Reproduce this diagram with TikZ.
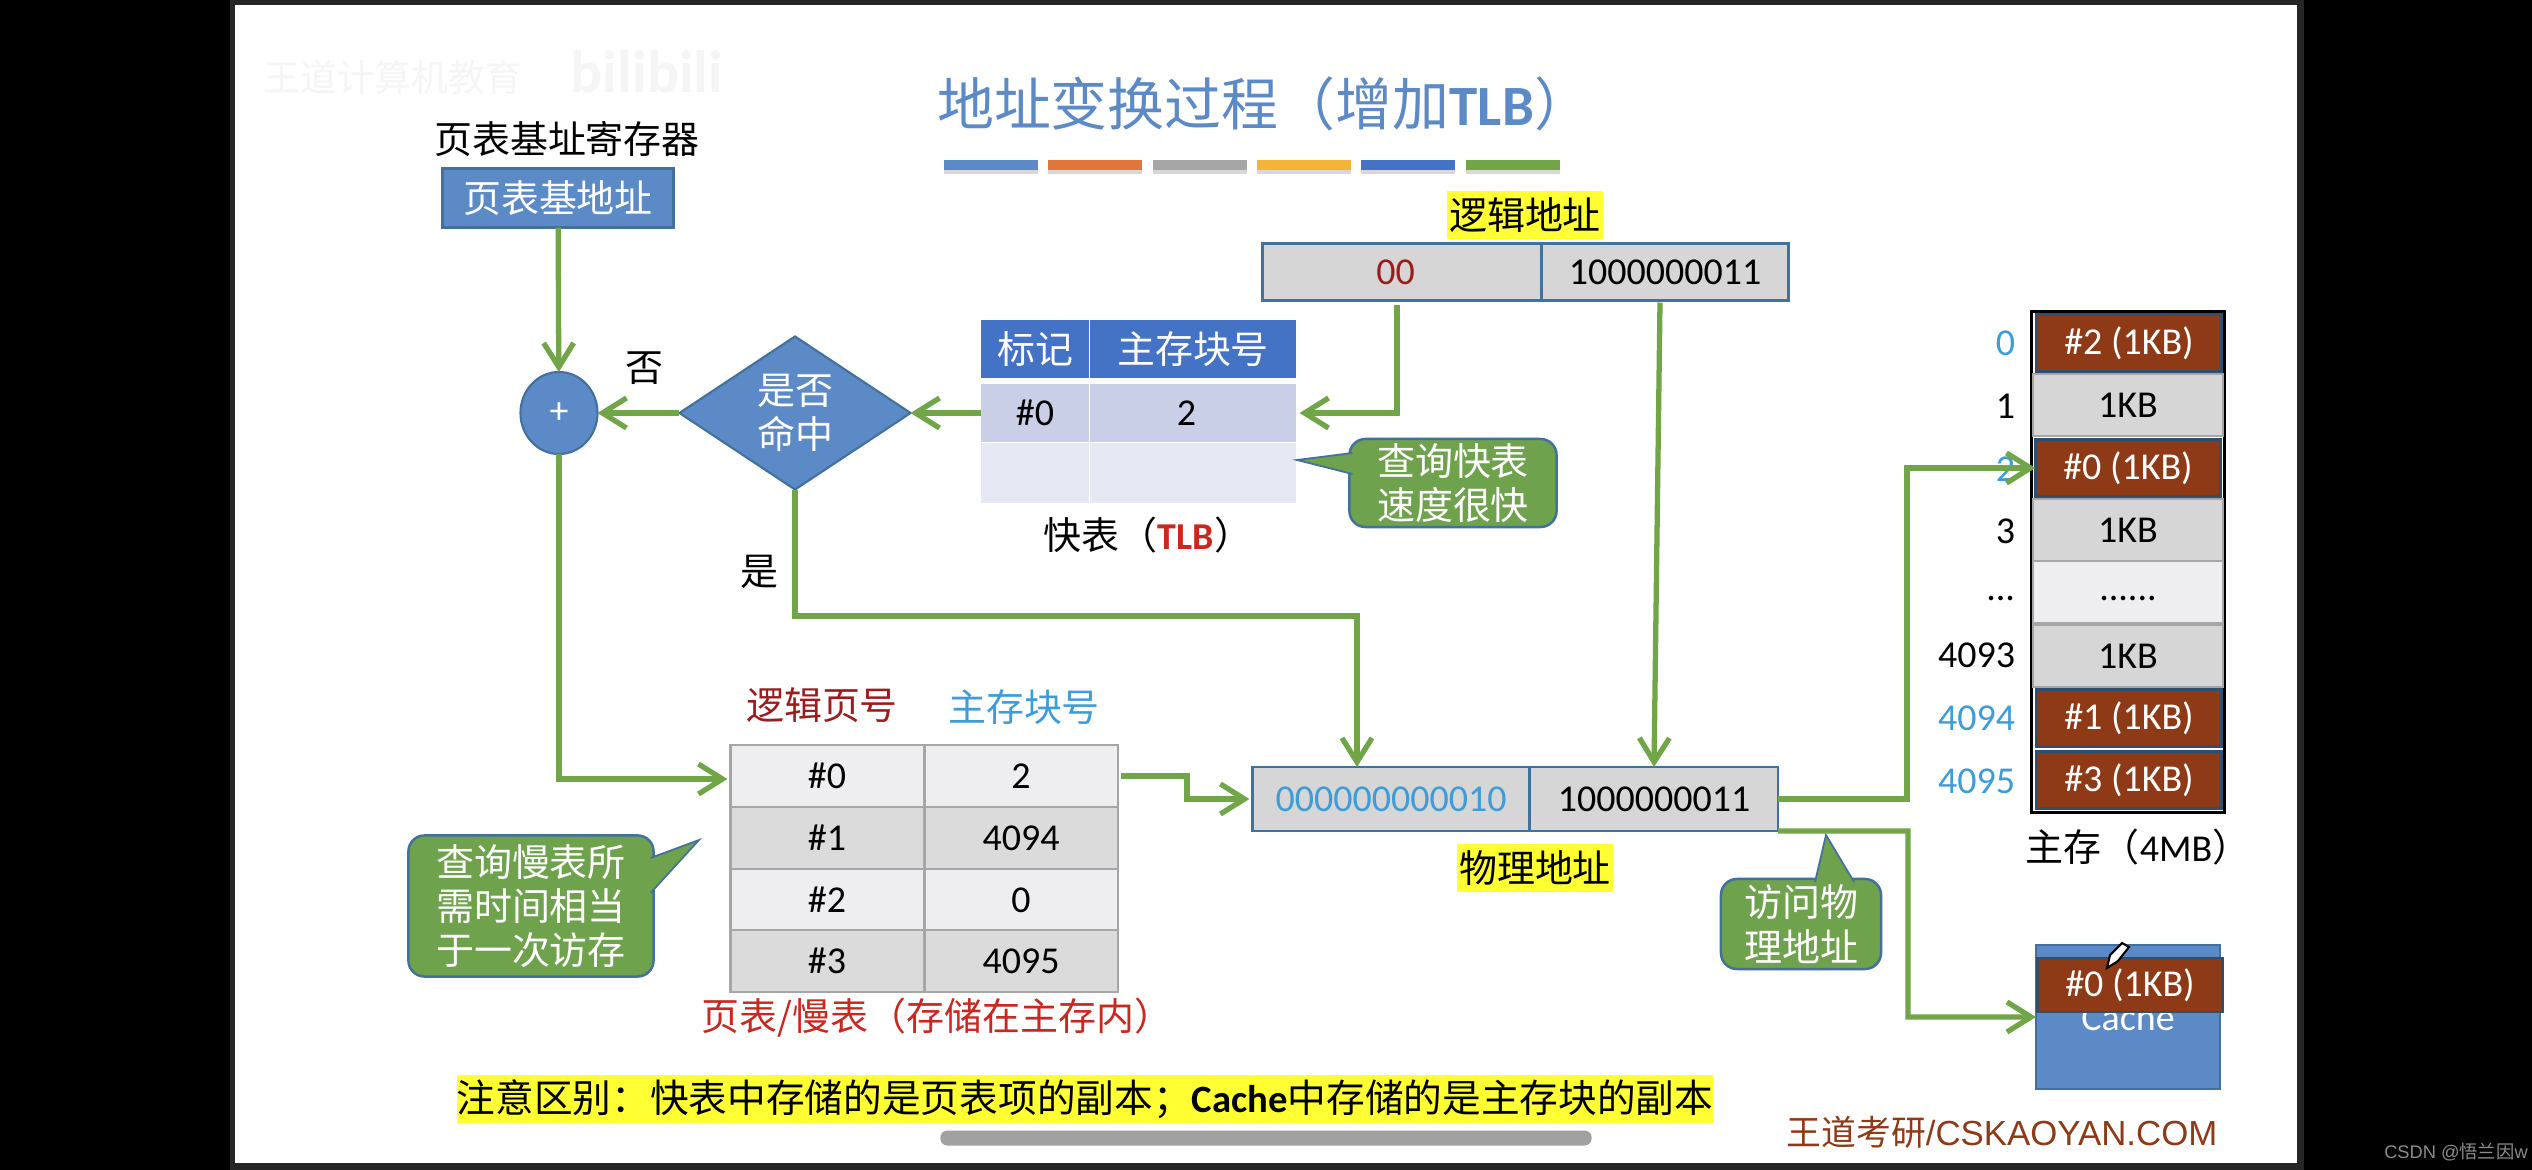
\documentclass[tikz,border=0pt]{standalone}
\usepackage{fontspec}
\setmainfont{Carlito}
\newfontfamily\zhfam{Noto Sans CJK SC}
\newfontfamily\arialfam{Liberation Sans}
\usetikzlibrary{arrows.meta, shapes.geometric, shadows}
\usepackage{xcolor}
\definecolor{mblue}{HTML}{5B8AC6}
\definecolor{mline}{HTML}{41719C}
\definecolor{marrow}{HTML}{70A548}
\definecolor{mgreen}{HTML}{6FA24C}
\definecolor{mbrown}{HTML}{8F3A17}
\definecolor{mgray}{HTML}{D6D6D6}
\definecolor{mlight}{HTML}{EEEEF0}
\definecolor{mtext}{HTML}{3E9CD8}
\definecolor{mdark}{HTML}{9C1C1C}
\definecolor{mred}{HTML}{C8281E}
\definecolor{myellow}{HTML}{FFFF33}
\definecolor{mhead}{HTML}{4472C4}
\definecolor{mrowa}{HTML}{C9CFE6}
\definecolor{mrowb}{HTML}{E6E8F4}
\definecolor{morange}{HTML}{E2763A}
\definecolor{mgold}{HTML}{F2B538}
\newcommand{\sizen}{\fontsize{10.8}{12.6}\selectfont}
\newcommand{\zh}{\sizen\zhfam}

\begin{document}
\begin{tikzpicture}[x=0.01cm,y=-0.01cm,
                    every node/.style={inner sep=0pt,outer sep=0pt,font=\sizen},
                    txt/.style={font=\zh,align=center},
                    yel/.style={fill=myellow,font=\zh},
                    bar/.style={minimum width=.94cm,minimum height=.1cm,
                    drop shadow={opacity=.3,shadow xshift=0cm,shadow yshift=-.04cm}},
                    tip/.style={fill=mgreen,draw=mline,line width=.5pt},
                    note/.style={fill=mgreen,draw=mline,line width=.7pt,rounded corners=.16cm,
                    text=white,font=\zh,align=center},
                    addr/.style={fill=mgray,draw=mline,line width=.8pt,minimum height=.57cm},
                    tlb/.style={minimum height=.57cm},
                    pg/.style={draw=black!35,line width=.6pt,minimum height=.62cm},
                    cell/.style={fill=mgray,draw=black!35,line width=.6pt,minimum width=1.9cm,minimum height=.62cm},
                    redcell/.style={fill=mbrown,draw=mline!70!black,line width=.8pt,text=white,
                    minimum width=1.85cm,minimum height=.57cm},
                    num/.style={anchor=east},
                    arr/.style={-{Straight Barb[length=2.4mm,width=3mm,line width=1.5pt]},marrow,line width=1.5pt}
]
\useasboundingbox (0,0) rectangle (2532,1170);
\fill[black] (0,0) rectangle (2532,1170);
\fill[black!85] (230,0) rectangle (2304,1170);
\node[fill=white,minimum width=20.6cm,minimum height=11.58cm] (slide) at (1266,584) {};

% heading and watermark
\node[font=\fontsize{10.5}{13}\selectfont\zhfam,text=black!4] (wmark) at (393,77) {王道计算机教育};
\node[font=\fontsize{17}{20}\selectfont\bfseries,text=black!4] (wlogo) at (647,72) {bilibili};
\node[font=\fontsize{16.2}{18}\selectfont\zhfam,text=mblue] (title) at (1264,104) {地址变换过程（增加{\fontspec{Carlito}\bfseries TLB}）};
\node[bar,fill=mblue] (bar1) at (991,165) {};
\node[bar,fill=morange] (bar2) at (1095,165) {};
\node[bar,fill=black!35] (bar3) at (1200,165) {};
\node[bar,fill=mgold] (bar4) at (1304,165) {};
\node[bar,fill=mhead] (bar5) at (1408,165) {};
\node[bar,fill=marrow] (bar6) at (1513,165) {};

% base register
\node[txt] (reglabel) at (567,139) {页表基址寄存器};
\node[fill=mblue,draw=mline,line width=.8pt,minimum width=2.31cm,minimum height=.59cm,font=\zh,text=white] (regbox) at (558,198) {页表基地址};

% adder and hit test
\node[ellipse,fill=mblue,draw=mline,line width=.6pt,minimum width=.77cm,minimum height=.82cm,text=white] (plus) at (559,413) {+};
\node[diamond,aspect=1.51,fill=mblue,draw=mline,line width=.6pt,minimum width=2.31cm,minimum height=1.53cm,
      text=white,txt] (hit) at (795,413) {是否\\命中};
\node[txt] (nolabel) at (644,368) {否};
\node[txt] (yeslabel) at (759,572) {是};

% TLB
\node[tlb,fill=mhead,minimum width=1.07cm,text=white,font=\zh] (tlbh1) at (1035,349) {标记};
\node[tlb,fill=mhead,minimum width=2.05cm,text=white,font=\zh] (tlbh2) at (1193,349) {主存块号};
\node[tlb,fill=mrowa,minimum width=1.07cm] (tlbk0) at (1035,413) {\#0};
\node[tlb,fill=mrowa,minimum width=2.05cm] (tlbv0) at (1193,413) {2\kern.13cm};
\node[tlb,fill=mrowb,minimum width=1.07cm,minimum height=.6cm] (tlbk1) at (1035,473) {};
\node[tlb,fill=mrowb,minimum width=2.05cm,minimum height=.6cm] (tlbv1) at (1193,473) {};
\node[txt] (tlbcap) at (1148,535) {快表（{\color{mred}\fontspec{Carlito}\bfseries TLB}）};

% logical address
\node[yel,minimum width=1.55cm,minimum height=.48cm] (loglabel) at (1525,215) {逻辑地址};
\node[addr,minimum width=2.79cm,text=mdark] (logpage) at (1402,272) {00\kern.13cm};
\node[addr,minimum width=2.47cm] (logoff) at (1665,272) {1000000011};

% callouts
\node[note,minimum width=2.07cm,minimum height=.88cm] (fastnote) at (1453,483) {查询快表\\速度很快};
\draw[tip] ([yshift=.3cm,xshift=.03cm]fastnote.west) -- (1297,460) -- ([yshift=.09cm,xshift=.03cm]fastnote.west);
\node[note,minimum width=2.45cm,minimum height=1.41cm] (slownote) at (531,906) {查询慢表所\\需时间相当\\于一次访存};
\draw[tip] ([yshift=.48cm,xshift=-.03cm]slownote.east) -- (699,840) -- ([yshift=.13cm,xshift=-.03cm]slownote.east);
\node[note,minimum width=1.6cm,minimum height=.9cm] (accnote) at (1801,924) {访问物\\理地址};
\draw[tip] ([xshift=.14cm,yshift=-.03cm]accnote.north) -- (1826,835) -- ([xshift=.53cm,yshift=-.03cm]accnote.north);

% page table
\node[font=\zh,text=mdark] (pghead1) at (822,705) {逻辑页号};
\node[font=\zh,text=mtext] (pghead2) at (1024,707) {主存块号};
\node[pg,fill=mlight,minimum width=1.93cm] (pk0) at (827,776) {\#0};
\node[pg,fill=mlight,minimum width=1.93cm] (pv0) at (1021,776) {2};
\node[pg,fill=black!14,minimum width=1.93cm] (pk1) at (827,838) {\#1};
\node[pg,fill=black!14,minimum width=1.93cm] (pv1) at (1021,838) {4094};
\node[pg,fill=mlight,minimum width=1.93cm] (pk2) at (827,900) {\#2};
\node[pg,fill=mlight,minimum width=1.93cm] (pv2) at (1021,900) {0};
\node[pg,fill=black!14,minimum width=1.93cm] (pk3) at (827,961) {\#3};
\node[pg,fill=black!14,minimum width=1.93cm] (pv3) at (1021,961) {4095};
\node[font=\zh,text=mred] (pgcap) at (937,1018) {页表/慢表（存储在主存内）};

% physical address
\node[addr,minimum width=2.77cm,minimum height=.64cm,text=mtext] (physpage) at (1391,799) {000000000010};
\node[addr,minimum width=2.48cm,minimum height=.64cm] (physoff) at (1654,799) {1000000011};
\node[yel,minimum width=1.55cm,minimum height=.48cm] (physlabel) at (1535,868) {物理地址};

% main memory
\node[draw=black,line width=1pt,fill=white,minimum width=1.93cm,minimum height=5.01cm] (memframe) at (2128,562) {};
\node[redcell] (mem0) at (2129,343) {\#2 (1KB)};
\node[cell] (mem1) at (2128,405) {1KB};
\node[redcell] (mem2) at (2128,468) {\#0 (1KB)};
\node[cell] (mem3) at (2128,530) {1KB};
\node[cell,fill=mlight] (mem4) at (2128,592) {\strut......};
\node[cell] (mem5) at (2128,656) {1KB};
\node[redcell] (mem6) at (2129,718) {\#1 (1KB)};
\node[redcell] (mem7) at (2129,780) {\#3 (1KB)};
\node[num,text=mtext] (idx0) at (2015,343) {0};
\node[num] (idx1) at (2015,406) {1};
\node[num,text=mtext] (idx2) at (2015,469) {2};
\node[num] (idx3) at (2015,531) {3};
\node[num] (idx4) at (2015,592) {\strut...};
\node[num] (idx5) at (2015,655) {4093};
\node[num,text=mtext] (idx6) at (2015,718) {4094};
\node[num,text=mtext] (idx7) at (2015,781) {4095};
\node[txt] (memcap) at (2138,847) {主存（{\fontspec{Carlito}4MB}）};

% cache
\node[fill=mblue,draw=mline,line width=.7pt,minimum width=1.84cm,minimum height=1.44cm,text=white] (cache) at (2128,1017) {Cache};
\node[redcell,minimum width=1.85cm,minimum height=.54cm] (cblock) at (2130,985) {\#0 (1KB)};
\draw[fill=white,draw=black,line width=.6pt] (2107,968) -- (2110,955) -- (2122,943) -- (2129,947) -- (2118,961) -- cycle;

% bottom line
\node[yel,minimum width=12.55cm,minimum height=.48cm,font=\fontsize{11}{13}\selectfont\zhfam] (warn) at (1085,1099) {注意区别：快表中存储的是页表项的副本；{\fontspec{Carlito}\bfseries Cache}中存储的是主存块的副本};
\node[font=\fontsize{9.9}{12}\selectfont\arialfam,text=mbrown] (brand) at (2002,1132) {{\zhfam 王道考研}/CSKAOYAN.COM};
\node[fill=black!37,rounded corners=.07cm,minimum width=6.51cm,minimum height=.15cm] (scroll) at (1266,1138) {};
\node[font=\fontsize{5.2}{6}\selectfont\arialfam,text=black!45] (csdn) at (2456,1152) {CSDN @{\zhfam 悟兰因}w};

% connectors
\coordinate (hitbend) at (1357,616);
\coordinate (tblbend) at (1187,776);
\coordinate (membend) at (1907,468);
\coordinate (cachebend) at (1908,831);
\draw[arr] (regbox) -- (plus);
\draw[arr] (hit) -- (plus);
\draw[arr] (tlbk0) -- (hit);
\draw[arr] ([xshift=-.05cm,yshift=-.04cm]logpage.south) |- ([xshift=.04cm]tlbv0.east);
\draw[arr] ([xshift=-.05cm,yshift=-.02cm]logoff.south) -- (physoff.north);
\draw[arr] (hit.south) -- (hit.south |- hitbend) -- (hitbend) -- (hitbend |- physpage.north);
\draw[arr] (plus.south) |- ([xshift=-.03cm,yshift=-.03cm]pk0.west);
\draw[arr] ([xshift=.03cm]pv0.east) -- (tblbend) -- (tblbend |- physpage.west) -- ([xshift=-.03cm]physpage.west);
\draw[arr] (physoff.east) -| (membend) -- (mem2.west);
\draw[arr] (physoff.south east) -- (cachebend) -- (cachebend |- cache.west) -- (cache.west);
\end{tikzpicture}
\end{document}
